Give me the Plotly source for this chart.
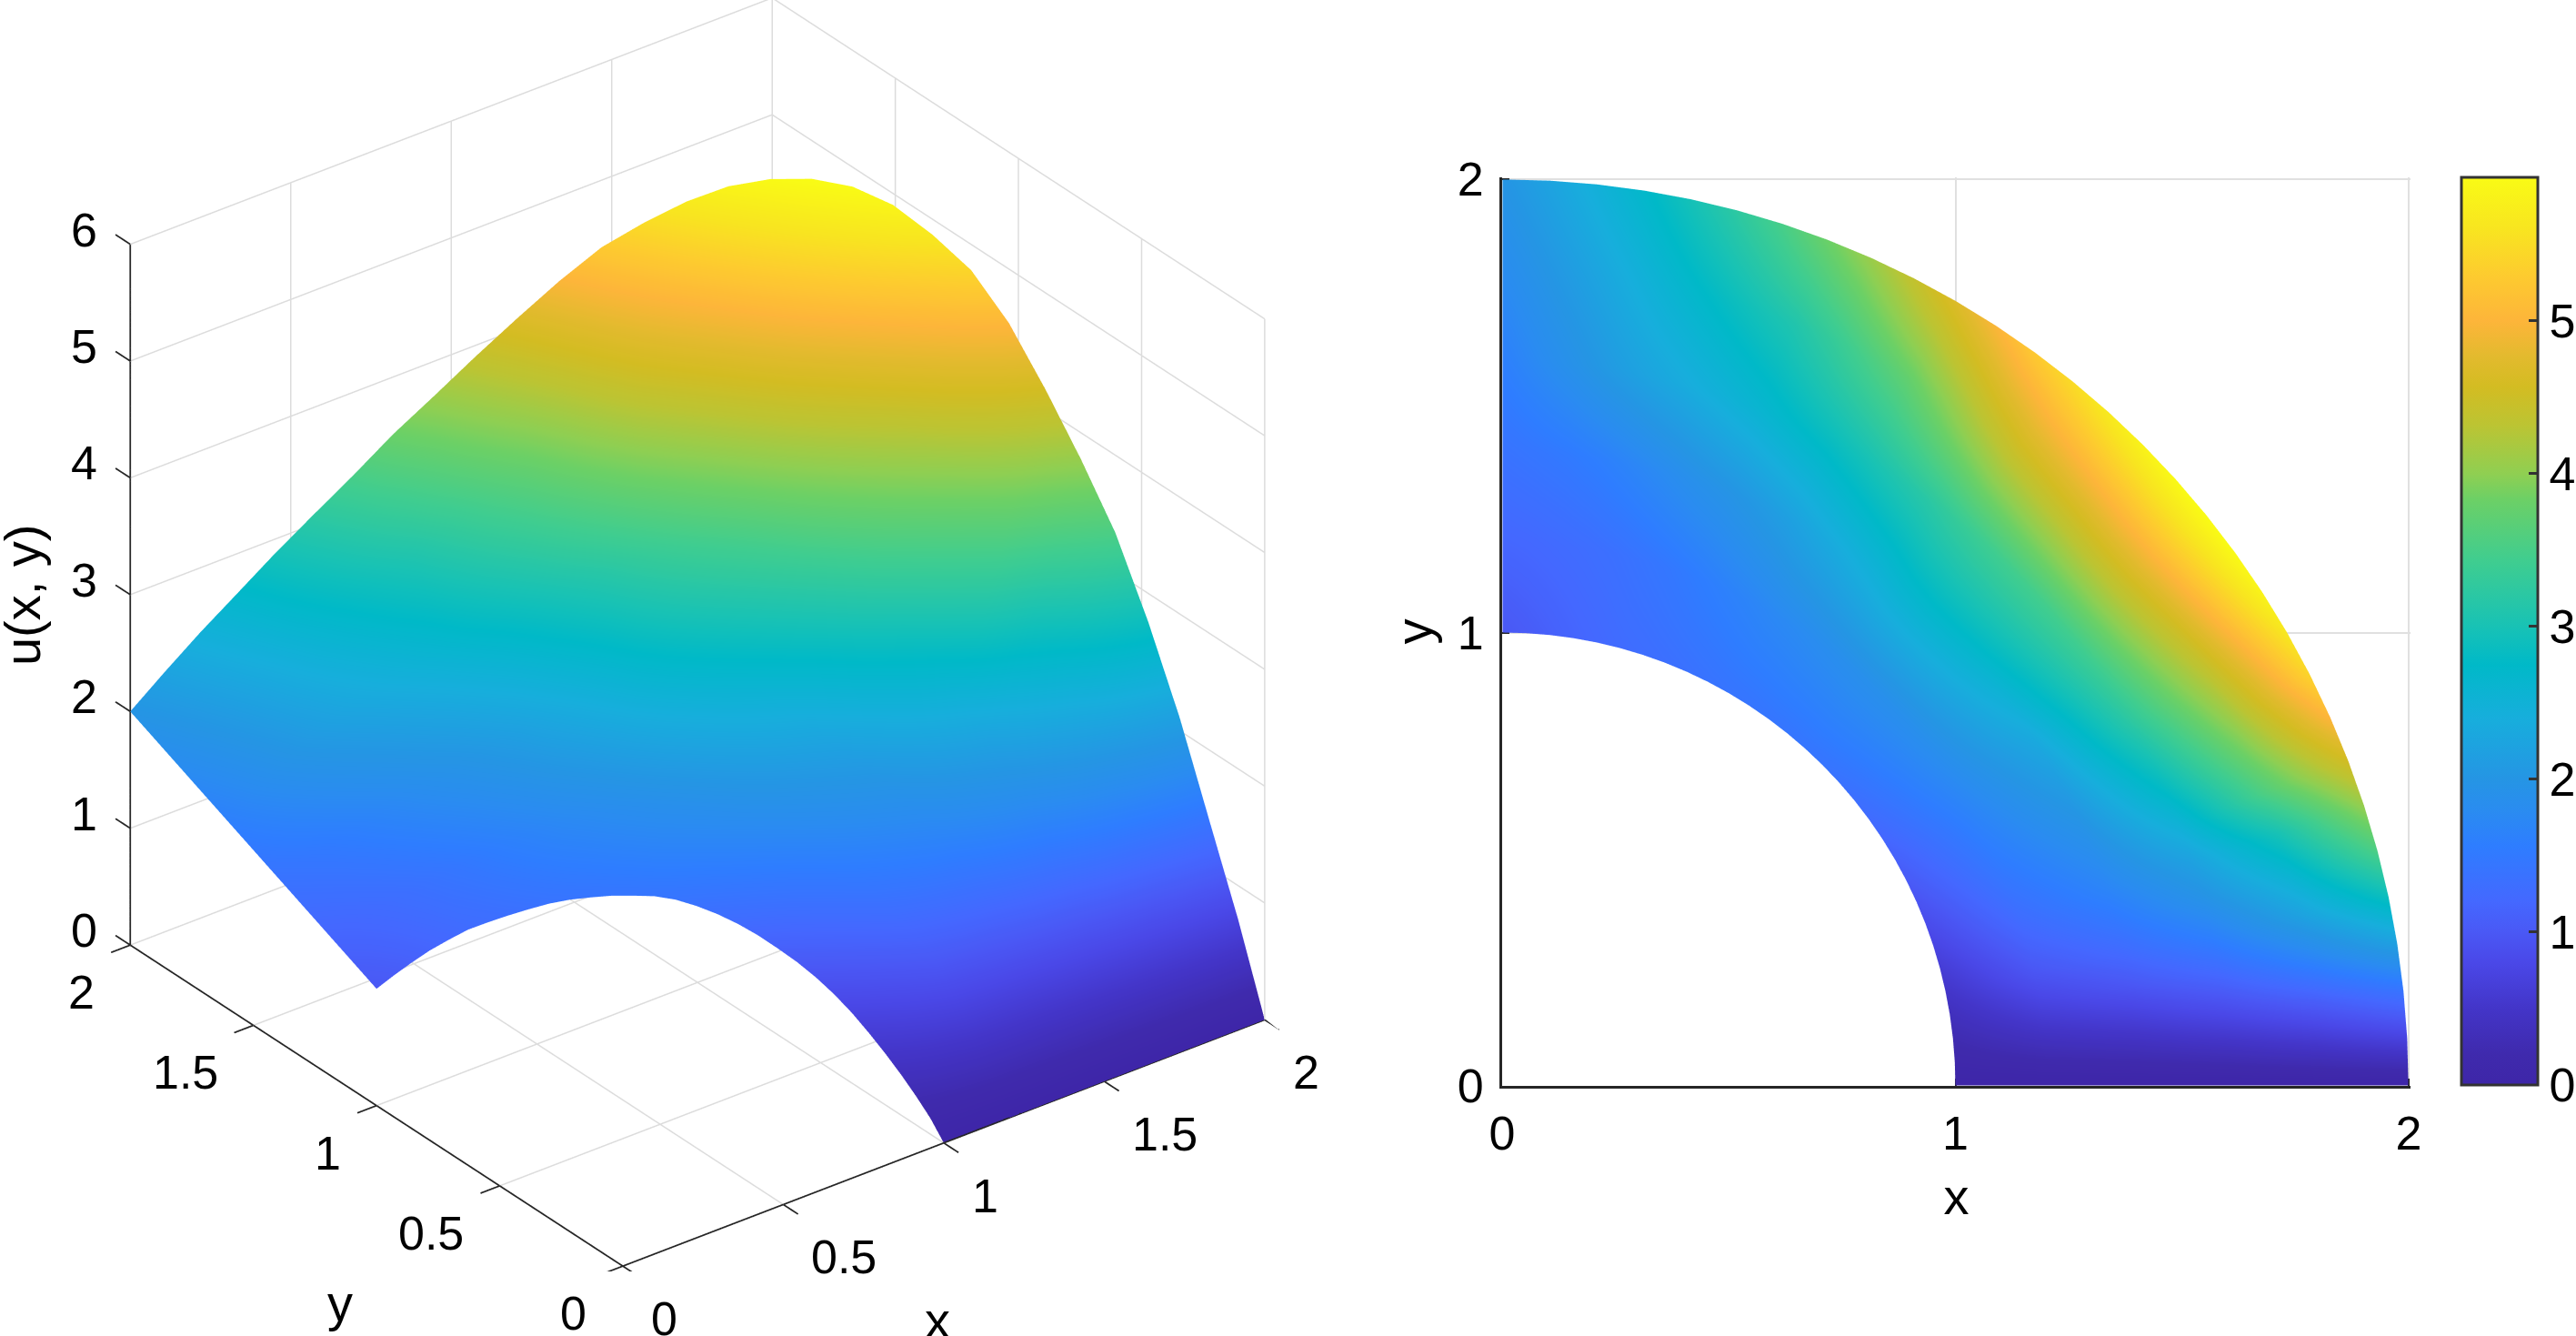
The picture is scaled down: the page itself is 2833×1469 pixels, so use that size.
import numpy as np
import plotly.graph_objects as go

radii = [1.0, 1.2, 1.4, 1.6, 1.8, 2.0]
angles_deg = [0, 3, 6, 9, 12, 15, 18, 21, 24, 27, 30, 33, 36, 39, 42, 45,
              48, 51, 54, 57, 60, 63, 66, 69, 72, 75, 78, 81, 84, 87, 90]
u_r10 = [0, .14, .26, .38, .50, .62, .74, .85, .95, 1.04, 1.12, 1.20, 1.27, 1.33, 1.38, 1.42,
         1.44, 1.44, 1.44, 1.43, 1.42, 1.40, 1.37, 1.34, 1.31, 1.28, 1.23, 1.18, 1.12, 1.06, 1.00]
u_r12 = [0, .25, .50, .75, .98, 1.15, 1.30, 1.42, 1.52, 1.60, 1.67, 1.74, 1.80, 1.84, 1.86, 1.87,
         1.87, 1.85, 1.82, 1.78, 1.74, 1.68, 1.62, 1.55, 1.48, 1.42, 1.36, 1.31, 1.27, 1.23, 1.20]
u_r14 = [0, .32, .65, .98, 1.25, 1.48, 1.68, 1.82, 1.95, 2.08, 2.20, 2.32, 2.45, 2.55, 2.62, 2.65,
         2.65, 2.60, 2.50, 2.40, 2.30, 2.18, 2.08, 1.98, 1.90, 1.80, 1.70, 1.60, 1.52, 1.46, 1.40]
u_r16 = [0, .42, .85, 1.25, 1.62, 1.95, 2.20, 2.50, 2.78, 3.00, 3.20, 3.32, 3.40, 3.44, 3.45, 3.44,
         3.40, 3.32, 3.20, 3.10, 2.98, 2.86, 2.75, 2.62, 2.50, 2.38, 2.26, 2.12, 1.95, 1.78, 1.60]
u_r18 = [0, .55, 1.10, 1.68, 2.20, 2.60, 3.00, 3.55, 3.85, 4.10, 4.30, 4.47, 4.60, 4.68, 4.68, 4.62,
         4.55, 4.45, 4.25, 4.00, 3.75, 3.55, 3.32, 3.10, 2.95, 2.78, 2.60, 2.40, 2.20, 2.00, 1.80]
u_r20 = [0, .72, 1.42, 2.18, 2.88, 3.53, 4.05, 4.55, 5.03, 5.40, 5.63, 5.82, 5.92, 5.94, 5.90, 5.81,
         5.66, 5.47, 5.26, 4.98, 4.68, 4.38, 4.08, 3.80, 3.50, 3.23, 2.97, 2.71, 2.47, 2.23, 2.00]
axis_ticks = [0, 0.5, 1, 1.5, 2]
z_ticks = [0, 1, 2, 3, 4, 5, 6]
axis_labels = ["0", "0.5", "1", "1.5", "2"]
z_labels = ["0", "1", "2", "3", "4", "5", "6"]
cbar_ticks = [0, 1, 2, 3, 4, 5]

W, H = 2833, 1469
FONT = "Liberation Sans"
FS = 52
u = np.array([u_r10, u_r12, u_r14, u_r16, u_r18, u_r20])
r = np.array(radii)[:, None]
t = np.radians(angles_deg)[None, :]
x = r * np.cos(t)
y = r * np.sin(t)

colorscale = [
    [0.000, "#3e26a8"], [0.034, "#3f2aad"], [0.084, "#4335c8"], [0.135, "#4a48e8"],
    [0.168, "#4a58f5"], [0.202, "#4468ff"], [0.263, "#2e7dff"], [0.303, "#2a8cf0"],
    [0.337, "#2595e4"], [0.404, "#17aedc"], [0.463, "#00b9c8"], [0.505, "#18c2b5"],
    [0.577, "#3fcd90"], [0.645, "#6cd066"], [0.673, "#8fcf52"], [0.727, "#bcc433"],
    [0.769, "#d3bc22"], [0.803, "#e3ba2e"], [0.842, "#fdb53a"], [0.892, "#fdcb2f"],
    [0.943, "#f8e520"], [1.000, "#f9fb15"],
]
flat = dict(ambient=1, diffuse=0, specular=0, roughness=1, fresnel=0)
CMAX = 5.94
TF = dict(family=FONT, size=FS, color="black")
TT = dict(family=FONT, size=56, color="black")

fig = go.Figure()
fig.add_trace(go.Surface(x=x, y=y, z=u, surfacecolor=u, cmin=0, cmax=CMAX, colorscale=colorscale,
                         showscale=False, lighting=flat, hoverinfo="skip", scene="scene"))
fig.add_trace(go.Surface(x=x, y=y, z=np.zeros_like(u), surfacecolor=u, cmin=0, cmax=CMAX,
                         colorscale=colorscale, lighting=flat, hoverinfo="skip", scene="scene2",
                         colorbar=dict(x=2707 / W, xanchor="left", xpad=0, ypad=0,
                                       y=1 - 694 / H, yanchor="middle", lenmode="pixels", len=998,
                                       thicknessmode="pixels", thickness=84,
                                       outlinecolor="#333333", outlinewidth=3,
                                       ticks="inside", ticklen=11, tickcolor="#333333", tickwidth=3,
                                       tickvals=cbar_ticks, tickfont=TF)))
fig.add_trace(go.Scatter(x=[0, 2], y=[0, 2], mode="none", hoverinfo="skip", showlegend=False))

XMAX, ZMAX = axis_ticks[-1], z_ticks[-1]
TK = 0.06
gx, gy, gz = [], [], []


def seg(a, b, xs=gx, ys=gy, zs=gz):
    xs += [a[0], b[0], None]
    ys += [a[1], b[1], None]
    zs += [a[2], b[2], None]


for v in axis_ticks:
    if v > 0:
        seg((v, 0, 0), (v, XMAX, 0))
        seg((0, v, 0), (XMAX, v, 0))
    seg((v, XMAX, 0), (v, XMAX, ZMAX))
    seg((XMAX, v, 0), (XMAX, v, ZMAX))
for v in z_ticks:
    seg((0, XMAX, v), (XMAX, XMAX, v))
    seg((XMAX, 0, v), (XMAX, XMAX, v))
fig.add_trace(go.Scatter3d(x=gx, y=gy, z=gz, mode="lines", line=dict(color="#dcdcdc", width=3),
                           hoverinfo="skip", showlegend=False, scene="scene"))
ax_, ay_, az_ = [], [], []
seg((0, 0, 0), (XMAX, 0, 0), ax_, ay_, az_)
seg((0, 0, 0), (0, XMAX, 0), ax_, ay_, az_)
seg((0, XMAX, 0), (0, XMAX, ZMAX), ax_, ay_, az_)
for v in axis_ticks:
    seg((v, 0, 0), (v, -TK, 0), ax_, ay_, az_)
    seg((0, v, 0), (-TK, v, 0), ax_, ay_, az_)
for v in z_ticks:
    seg((0, XMAX, v), (0, XMAX + TK, v), ax_, ay_, az_)
fig.add_trace(go.Scatter3d(x=ax_, y=ay_, z=az_, mode="lines", line=dict(color="#262626", width=3.5),
                           hoverinfo="skip", showlegend=False, scene="scene"))

annots = []


def lab(xv, yv, zv, text, dx, dy, angle=0, font=TF):
    annots.append(dict(x=xv, y=yv, z=zv, text=text, showarrow=False, font=font, xanchor="center",
                       yanchor="middle", xshift=dx, yshift=dy, textangle=angle))


for v, s in zip(axis_ticks, axis_labels):
    lab(v, 0, 0, s, 67 if len(s) > 1 else 46, -58)
    lab(0, v, 0, s, -75 if len(s) > 1 else -54, -52)
for v, s in zip(z_ticks, z_labels):
    lab(0, XMAX, v, s, -51, 16)
lab(1, 0, 0, "x", -7, -195, font=TT)
lab(0, 1, 0, "y", -40, -217, font=TT)
lab(0, XMAX, 3, "u(x, y)", -118, 0, -90, font=TT)

tilt = np.radians(37.5)
el = np.radians(30)
cx1, cy1 = 756.4, 699
left_h = 1398
left_w = 2 * cx1
D = 1.511
F1 = 1.273
eye = dict(x=-D * np.sin(tilt) * np.cos(el), y=-D * np.cos(tilt) * np.cos(el), z=D * np.sin(el))

right_s = 1101
cx2, cy2 = 2150.5, 695.5
D2 = 1.0603
F2 = 1.81

hidden = dict(visible=False, showspikes=False)
cart = dict(tickvals=[0, 1, 2], showgrid=True, gridcolor="#e0e0e0", gridwidth=2, zeroline=False,
            showline=True, linecolor="#262626", linewidth=3, ticks="inside", ticklen=8,
            tickcolor="#262626", tickwidth=2, tickfont=TF, range=[0, 2.004])
fig.update_layout(
    width=W, height=H, autosize=False, margin=dict(l=0, r=0, t=0, b=0, autoexpand=False),
    paper_bgcolor="white", plot_bgcolor="rgba(0,0,0,0)", showlegend=False,
    font=TF,
    scene=dict(domain=dict(x=[0, left_w / W], y=[1 - left_h / H, 1]),
               xaxis=dict(range=[-TK, XMAX], **hidden),
               yaxis=dict(range=[-TK, XMAX + TK], **hidden),
               zaxis=dict(range=[0, ZMAX], **hidden),
               annotations=annots,
               aspectmode="manual",
               aspectratio=dict(x=F1 * (XMAX + TK) / XMAX, y=F1 * (XMAX + 2 * TK) / XMAX, z=F1),
               camera=dict(eye=eye, up=dict(x=0, y=0, z=1), center=dict(x=0, y=0, z=0),
                           projection=dict(type="orthographic"))),
    scene2=dict(domain=dict(x=[(cx2 - right_s / 2) / W, (cx2 + right_s / 2) / W],
                            y=[1 - (cy2 + right_s / 2) / H, 1 - (cy2 - right_s / 2) / H]),
                xaxis=dict(range=[0, 2], **hidden), yaxis=dict(range=[0, 2], **hidden),
                zaxis=dict(range=[-1, 1], **hidden),
                aspectmode="manual", aspectratio=dict(x=F2, y=F2, z=1),
                camera=dict(eye=dict(x=0, y=0, z=D2), up=dict(x=0, y=1, z=0),
                            center=dict(x=0, y=0, z=0), projection=dict(type="orthographic"))),
    xaxis=dict(domain=[1652 / W, 2651 / W], ticklabelstandoff=5,
               title=dict(text="x", font=TT, standoff=22), **cart),
    yaxis=dict(domain=[1 - 1194 / H, 1 - 195 / H], ticklabelstandoff=7,
               title=dict(text="y", font=TT, standoff=11), **cart),
)
fig.write_html("out.html", config=dict(displayModeBar=False),
               post_script="document.body.style.margin='0';document.body.style.overflow='hidden';")
